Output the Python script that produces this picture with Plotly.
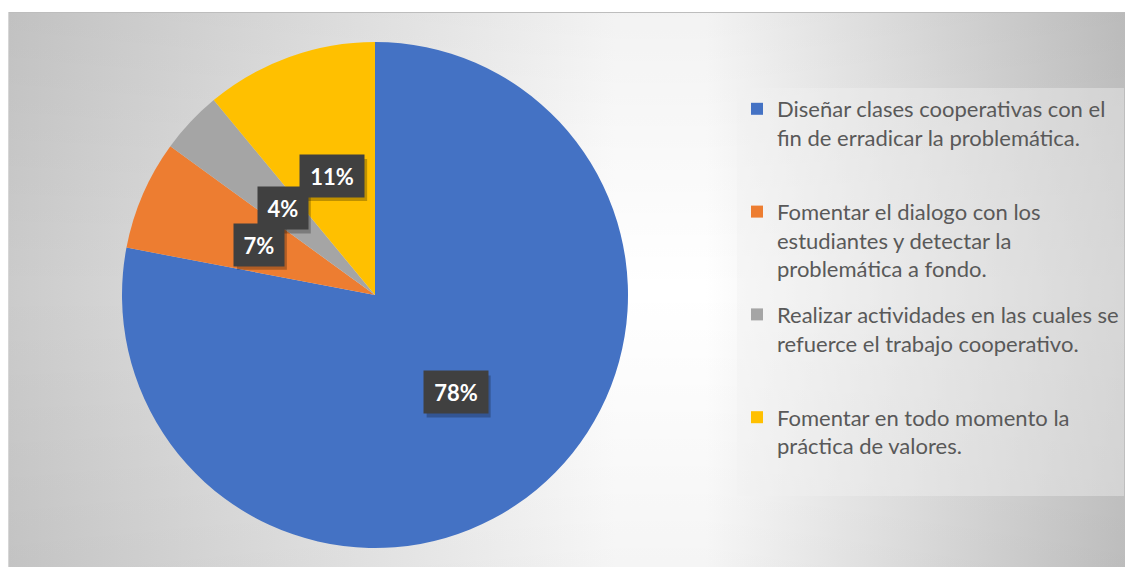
import base64
import math
import plotly.graph_objects as go

# ---- data ----
categories = [
    "Diseñar clases cooperativas con el<br>fin de erradicar la problemática.",
    "Fomentar el dialogo con los<br>estudiantes y detectar la<br>problemática a fondo.",
    "Realizar actividades en las cuales se<br>refuerce el trabajo cooperativo.",
    "Fomentar en todo momento la<br>práctica de valores.",
]
values = [78, 7, 4, 11]
colors = ["#4472C4", "#ED7D31", "#A5A5A5", "#FFC000"]

# page has an 8px body margin; figure fills the rest of the 1133x567 window
OFF = 8
W, H = 1133 - OFF, 567 - OFF

# ---- background (chart area with gradient) as svg image ----
top = 12 - OFF
svg = f'''<svg xmlns="http://www.w3.org/2000/svg" width="{W}" height="{H}" viewBox="0 0 {W} {H}">
<defs>
<linearGradient id="h" x1="0" y1="0" x2="{W}" y2="0" gradientUnits="userSpaceOnUse">
<stop offset="0" stop-color="#cbcbcb"/>
<stop offset="0.54" stop-color="#ffffff"/>
<stop offset="0.62" stop-color="#ffffff"/>
<stop offset="1" stop-color="#c3c3c3"/>
</linearGradient>
<linearGradient id="v" x1="0" y1="{top}" x2="0" y2="{H}" gradientUnits="userSpaceOnUse">
<stop offset="0" stop-color="#000" stop-opacity="0.05"/>
<stop offset="0.5" stop-color="#000" stop-opacity="0"/>
<stop offset="1" stop-color="#000" stop-opacity="0.04"/>
</linearGradient>
</defs>
<rect x="0" y="{top}" width="{W}" height="{H-top}" fill="url(#h)"/>
<rect x="0" y="{top}" width="{W}" height="{H-top}" fill="url(#v)"/>
<line x1="0" y1="{top+0.5}" x2="{W}" y2="{top+0.5}" stroke="#bdbdbd" stroke-width="1.2"/>
<line x1="0.5" y1="{top}" x2="0.5" y2="{H}" stroke="#d6d6d6" stroke-width="1"/>
</svg>'''
src = "data:image/svg+xml;base64," + base64.b64encode(svg.encode()).decode()

# pie geometry (layout), in figure pixels
cx_px, cy_px, R = 375 - OFF, 295 - OFF, 253
dom_x = [(cx_px - R) / W, (cx_px + R) / W]
dom_y = [1 - (cy_px + R) / H, 1 - (cy_px - R) / H]

fig = go.Figure()
fig.add_trace(go.Pie(
    labels=categories, values=values, sort=False, direction="clockwise",
    rotation=0, marker=dict(colors=colors, line=dict(width=0)),
    textinfo="none", hoverinfo="label+percent", showlegend=False,
    domain=dict(x=dom_x, y=dom_y),
))

# legend via marker-only traces
for i, (lab, col) in enumerate(zip(categories, colors)):
    txt = lab if lab.count("<br>") >= 2 else lab + "<br> "
    fig.add_trace(go.Scatter(
        x=[None], y=[None], mode="markers", name=txt,
        marker=dict(symbol="square", size=13, color=col),
        legendgroup=f"g{i}", showlegend=True,
    ))

# percentage labels
total = sum(values)
cum = 0
anns = []
shapes = []
lab_font = dict(family="Lato", size=22, color="white", weight="bold")
for v in values:
    mid = (cum + v / 2) / total * 2 * math.pi
    cum += v
    px = cx_px + 0.5 * R * math.sin(mid)
    py = cy_px - 0.5 * R * math.cos(mid)
    pct = f"{round(v / total * 100)}%"
    bw = 14 * (len(pct) - 1) + 17 + 19   # box width from text length
    bh = 42
    # drop shadow of the label box
    shapes.append(dict(type="rect", xref="paper", yref="paper",
                       x0=(px - bw / 2 + 3) / W, x1=(px + bw / 2 + 3) / W,
                       y0=1 - (py + bh / 2 + 4) / H, y1=1 - (py - bh / 2 + 4) / H,
                       fillcolor="rgba(0,0,0,0.25)", line=dict(width=0), layer="above"))
    anns.append(dict(text=pct, x=px / W, y=1 - py / H, xref="paper", yref="paper",
                     xanchor="center", yanchor="middle", showarrow=False,
                     borderpad=0, width=bw, height=bh,
                     bgcolor="#404040", font=lab_font))

fig.update_layout(
    width=W, height=H,
    margin=dict(l=0, r=0, t=0, b=0),
    paper_bgcolor="white", plot_bgcolor="rgba(0,0,0,0)",
    xaxis=dict(visible=False), yaxis=dict(visible=False),
    images=[dict(source=src, xref="paper", yref="paper", x=0, y=1,
                 sizex=1, sizey=1, xanchor="left", yanchor="top",
                 sizing="stretch", layer="below")],
    annotations=anns,
    shapes=shapes,
    legend=dict(
        x=(737 - OFF) / W, y=1 - (88 - OFF) / H, xanchor="left", yanchor="top",
        bgcolor="rgba(240,240,240,0.42)", borderwidth=0,
        font=dict(family="Lato", size=22, color="#595959"),
        tracegroupgap=14, valign="top", itemsizing="constant",
    ),
)
fig.write_html("out.html")
